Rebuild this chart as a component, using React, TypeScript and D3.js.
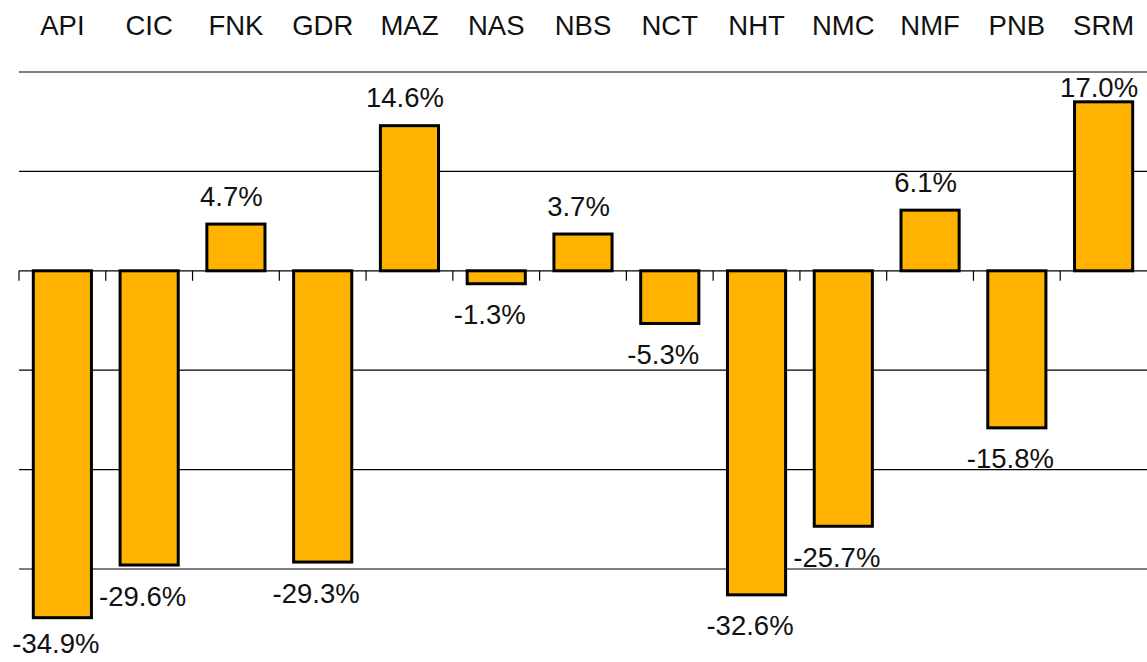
import * as React from 'react';
import * as d3 from 'd3';

const categories = ['API', 'CIC', 'FNK', 'GDR', 'MAZ', 'NAS', 'NBS', 'NCT', 'NHT', 'NMC', 'NMF', 'PNB', 'SRM'];
const changes = [-34.9, -29.6, 4.7, -29.3, 14.6, -1.3, 3.7, -5.3, -32.6, -25.7, 6.1, -15.8, 17.0];
const gridValues = [20, 10, 0, -10, -20, -30];

const W = 1147;
const H = 662;
const FONT = '"Liberation Sans", Arial, Helvetica, sans-serif';

export default function App() {
  const x = d3.scaleBand<string>()
    .domain(categories)
    .range([19, W])
    .paddingInner(0.33)
    .paddingOuter(0.165);
  const y = d3.scaleLinear().domain([-35, 20]).range([618.7, 72]);
  const zero = y(0);
  const step = x.step();
  const fmt = (v: number) => `${v.toFixed(1)}%`;

  return (
    <div style={{ position: 'absolute', left: 0, top: 0 }}>
      <svg width={W} height={H} style={{ display: 'block', background: '#fff' }}>
        {/* grid */}
        {gridValues.map(v => (
          <line key={v} x1={19} x2={W} y1={y(v)} y2={y(v)} stroke="#000" strokeWidth={1.2} />
        ))}
        {/* category ticks on zero line */}
        {categories.map((c, i) => {
          const tx = 19 + i * step;
          return <line key={'t' + c} x1={tx} x2={tx} y1={zero} y2={zero + 10} stroke="#000" strokeWidth={1.2} />;
        })}
        {/* bars */}
        {categories.map((c, i) => {
          const v = changes[i];
          const top = Math.min(y(v), zero);
          const h = Math.abs(y(v) - zero);
          return (
            <rect key={'b' + c} x={x(c)} y={top} width={x.bandwidth()} height={h}
              fill="#FFB300" stroke="#000" strokeWidth={3} />
          );
        })}
        {/* category labels */}
        {categories.map(c => (
          <text key={'c' + c} x={(x(c) ?? 0) + x.bandwidth() / 2} y={35} textAnchor="middle"
            fontFamily={FONT} fontSize={27.5} fill="#111">{c}</text>
        ))}
        {/* value labels */}
        {categories.map((c, i) => {
          const v = changes[i];
          const mid = (x(c) ?? 0) + x.bandwidth() / 2;
          const cx = v >= 0 ? mid - 4.5 : mid - 6.5;
          const ly = v >= 0 ? Math.max(y(v) - 18.5, 97) : Math.min(y(v) + 40.5, 653);
          return (
            <text key={'v' + c} x={cx} y={ly} textAnchor="middle"
              fontFamily={FONT} fontSize={27.5} fill="#111">{fmt(v)}</text>
          );
        })}
      </svg>
    </div>
  );
}
